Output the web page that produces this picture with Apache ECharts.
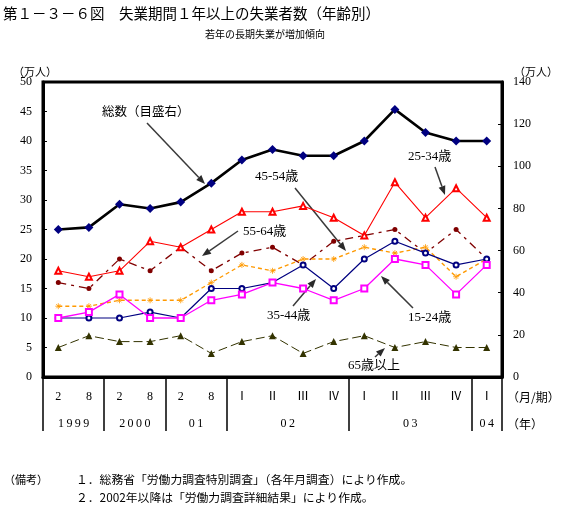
<!DOCTYPE html>
<html><head><meta charset="utf-8">
<script src="https://cdn.jsdelivr.net/npm/echarts@6/dist/echarts.min.js"></script>
<style>html,body{margin:0;padding:0;background:#fff}#c{width:578px;height:528px}</style>
</head><body><div id="c"></div>
<script>
// ---- data ----
const monthLabels = ['2','8','2','8','2','8','Ⅰ','Ⅱ','Ⅲ','Ⅳ','Ⅰ','Ⅱ','Ⅲ','Ⅳ','Ⅰ'];
const yearLabels = ['1999','2000','01','02','03','04'];
const yearGroupSizes = [2,2,2,4,4,1];
const total     = [70,71,82,80,83,92,103,108,105,105,112,127,116,112,112];
const age15_24  = [10,11,14,10,10,13,14,16,15,13,15,20,19,14,19];
const age25_34  = [18,17,18,23,22,25,28,28,29,27,24,33,27,32,27];
const age35_44  = [10,10,10,11,10,15,15,16,19,15,20,23,21,19,20];
const age45_54  = [12,12,13,13,13,16,19,18,20,20,22,21,22,17,20];
const age55_64  = [16,15,20,18,22,18,21,22,19,23,24,25,21,25,20];
const age65plus = [5,7,6,6,7,4,6,7,4,6,7,5,6,5,5];
const leftAxis  = {min:0, max:50, interval:5};
const rightAxis = {min:0, max:140, interval:20};

// group boundaries / centers for the year row
const bounds = [0]; yearGroupSizes.forEach(s => bounds.push(bounds[bounds.length-1] + s));
const centers = yearGroupSizes.map((s,i) => bounds[i] + s/2);

const NUM = "'Liberation Serif','Noto Sans CJK JP'";
const JP = "'Noto Sans CJK JP'";

function arrow(x1,y1,x2,y2){
  const a = Math.atan2(y2-y1, x2-x1), L = 9, W = 3.5;
  const bx = x2 - L*Math.cos(a), by = y2 - L*Math.sin(a);
  const px = -Math.sin(a)*W, py = Math.cos(a)*W;
  return [
    {type:'line', shape:{x1, y1, x2:bx, y2:by}, style:{stroke:'#3a3a3a', lineWidth:1.5}},
    {type:'polygon', shape:{points:[[x2,y2],[bx+px,by+py],[bx-px,by-py]]}, style:{fill:'#2a2a2a'}}
  ];
}
function txt(x,y,t,size,family,align){
  return {type:'text', x, y, style:{text:t, fill:'#000', font: size+'px '+(family||NUM), align:align||'left', verticalAlign:'middle'}};
}

const chart = echarts.init(document.getElementById('c'), null, {renderer:'canvas'});
const graphics = [
  txt(3,13,'第１－３－６図　失業期間１年以上の失業者数（年齢別）',14.5,JP),
  txt(265,34,'若年の長期失業が増加傾向',10,JP,'center'),
  txt(35,72,'（万人）',11,JP,'center'),
  txt(536,72,'（万人）',11,JP,'center'),
  txt(507,397,'（月/期）',12,JP),
  txt(507,424,'（年）',12,JP),
  txt(4,480,'（備考）',11,JP),
  txt(76,480,'１．総務省「労働力調査特別調査」（各年月調査）により作成。',11.8,JP),
  txt(76,498,'２．2002年以降は「労働力調査詳細結果」により作成。',11.8,JP),
  txt(102,113,'総数（目盛右）',12.5,NUM),
  txt(255,177,'45-54歳',13,NUM),
  txt(243,232,'55-64歳',13,NUM),
  txt(408,157,'25-34歳',13,NUM),
  txt(267,316,'35-44歳',13,NUM),
  txt(408,318,'15-24歳',13,NUM),
  txt(348,366,'65歳以上',13,NUM)
].concat(
  arrow(147,123,205,184),
  arrow(238,231,202,256),
  arrow(295,188,346,251),
  arrow(435,167,445,195),
  arrow(293,306,316,279),
  arrow(413,308,381,276),
  arrow(375,357,385,348)
);

function ser(name, data, o){
  return Object.assign({name, type:'line', data, xAxisIndex:0, yAxisIndex:0, animation:false, showSymbol:true}, o);
}

chart.setOption({
  animation:false,
  backgroundColor:'#fff',
  grid:{left:43, right:76, top:82, bottom:151, show:true, borderColor:'#000', borderWidth:3, backgroundColor:'transparent'},
  xAxis:[
    {type:'category', data:monthLabels, boundaryGap:true, position:'bottom',
     axisLine:{show:true, lineStyle:{color:'#000', width:3}},
     axisTick:{show:false},
     axisLabel:{color:'#000', fontSize:12, fontFamily:NUM, margin:14, interval:0},
     splitLine:{show:false}},
    {type:'value', min:0, max:bounds[bounds.length-1], position:'bottom',
     axisLine:{show:false},
     axisTick:{show:true, customValues:bounds, length:54, inside:false, lineStyle:{color:'#000', width:1.5}},
     axisLabel:{show:true, customValues:centers, color:'#000', fontSize:12, fontFamily:NUM, margin:41,
       formatter:function(v){ const i = centers.indexOf(v); return i>=0 ? yearLabels[i].split('').join('\u2009') : ''; }},
     splitLine:{show:false}}
  ],
  yAxis:[
    {type:'value', min:leftAxis.min, max:leftAxis.max, interval:leftAxis.interval, position:'left',
     axisLine:{show:true, lineStyle:{color:'#000', width:3}},
     axisTick:{show:true, inside:true, length:4, lineStyle:{color:'#000', width:1}},
     axisLabel:{color:'#000', fontSize:12, fontFamily:NUM, margin:11},
     splitLine:{show:false}},
    {type:'value', min:rightAxis.min, max:rightAxis.max, interval:rightAxis.interval, position:'right',
     axisLine:{show:true, lineStyle:{color:'#000', width:3}},
     axisTick:{show:true, inside:true, length:4, lineStyle:{color:'#000', width:1}},
     axisLabel:{color:'#000', fontSize:12, fontFamily:NUM, margin:11},
     splitLine:{show:false}}
  ],
  series:[
    ser('65歳以上', age65plus, {symbol:'triangle', symbolSize:7,
      itemStyle:{color:'#333300'}, lineStyle:{color:'#333300', width:1, type:[9,4]}}),
    ser('55-64歳', age55_64, {symbol:'circle', symbolSize:5,
      itemStyle:{color:'#800000'}, lineStyle:{color:'#800000', width:1.3, type:[8,5,3,5]}}),
    ser('45-54歳', age45_54, {symbol:'path://M0,5L10,5M5,0L5,10M1.5,1.5L8.5,8.5M8.5,1.5L1.5,8.5', symbolSize:6,
      itemStyle:{color:'#FF9900', borderColor:'#FF9900', borderWidth:0.8}, lineStyle:{color:'#FF9900', width:1.4, type:[4,3]}}),
    ser('35-44歳', age35_44, {symbol:'emptyCircle', symbolSize:5,
      itemStyle:{color:'#000080', borderWidth:0.8}, lineStyle:{color:'#000080', width:1.2}}),
    ser('15-24歳', age15_24, {symbol:'emptyRect', symbolSize:6,
      itemStyle:{color:'#FF00FF', borderWidth:0.8}, lineStyle:{color:'#FF00FF', width:1.3}}),
    ser('25-34歳', age25_34, {symbol:'emptyTriangle', symbolSize:6,
      itemStyle:{color:'#FF0000', borderWidth:0.8}, lineStyle:{color:'#FF0000', width:1.1}}),
    ser('総数', total, {yAxisIndex:1, symbol:'diamond', symbolSize:9, z:5,
      itemStyle:{color:'#000080'}, lineStyle:{color:'#000', width:2.6}})
  ],
  graphic:graphics
});
</script>
</body></html>
